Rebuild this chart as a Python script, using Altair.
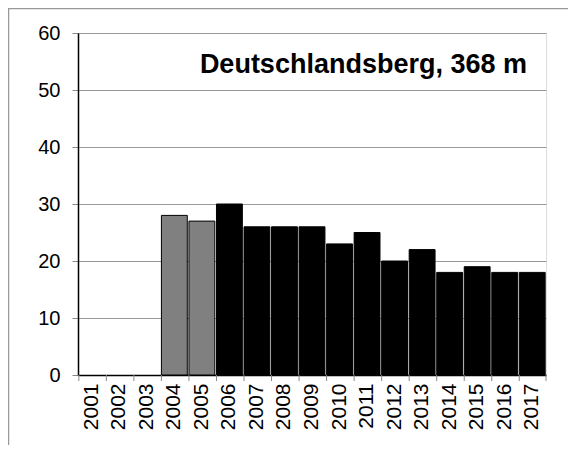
import altair as alt
import pandas as pd

years = [str(y) for y in range(2001, 2018)]
values = [None, None, None, 28, 27, 30, 26, 26, 26, 23, 25, 20, 22, 18, 19, 18, 18]
groups = ["none", "none", "none", "early", "early"] + ["main"] * 12
title_text = "Deutschlandsberg, 368 m"

W, H = 468, 342

df = pd.DataFrame({"year": years, "value": values, "group": groups})
df_bars = df.dropna()

xscale = alt.Scale(domain=years, paddingInner=0.06, paddingOuter=0.03)
yscale = alt.Scale(domain=[0, 60], nice=False)

xaxis = alt.Axis(title=None, labelAngle=-90, ticks=False, domain=True,
                 domainColor="black", domainWidth=1.5,
                 labelFont="Liberation Sans", labelFontSize=21,
                 labelColor="black", labelPadding=8, grid=False)

bars = alt.Chart(df_bars).mark_bar(stroke="black", strokeWidth=1).encode(
    x=alt.X("year:N", scale=xscale, sort=years, axis=xaxis),
    y=alt.Y("value:Q", scale=yscale,
            axis=alt.Axis(title=None, values=[0, 10, 20, 30, 40, 50, 60],
                          tickSize=6, tickColor="#888888", domainColor="black",
                          domainWidth=1.5, labelFont="Liberation Sans",
                          labelFontSize=20, labelColor="black", labelPadding=12,
                          grid=True, gridColor="#999999", gridWidth=1)),
    color=alt.Color("group:N", scale=alt.Scale(domain=["early", "main"],
                                                range=["#808080", "#000000"]),
                    legend=None),
)

tick_df = pd.DataFrame({"year": years})
xticks = alt.Chart(tick_df).mark_rule(color="#888888", strokeWidth=1).encode(
    x=alt.X("year:N", scale=xscale, sort=years, bandPosition=0, axis=xaxis),
    y=alt.value(H),
    y2=alt.value(H + 6),
)
last_tick = alt.Chart(tick_df.head(1)).mark_rule(color="#888888", strokeWidth=1).encode(
    x=alt.value(W), y=alt.value(H), y2=alt.value(H + 6)
)

title = alt.Chart(pd.DataFrame({"t": [title_text]})).mark_text(
    align="right", baseline="alphabetic", font="Liberation Sans",
    fontSize=27, fontWeight="bold", color="black"
).encode(text="t:N", x=alt.value(W - 19), y=alt.value(40))

frame_top = alt.Chart(tick_df.head(1)).mark_rule(color="#999999", strokeWidth=1.5).encode(
    x=alt.value(-70), x2=alt.value(W + 22), y=alt.value(-24.5)
)
frame_left = alt.Chart(tick_df.head(1)).mark_rule(color="#999999", strokeWidth=1.5).encode(
    x=alt.value(-69.5), y=alt.value(-25), y2=alt.value(H + 70)
)

chart = alt.layer(bars, xticks, last_tick, title, frame_top, frame_left).properties(
    width=W, height=H,
    autosize=alt.AutoSizeParams(type="none"),
    padding={"left": 70, "top": 25, "right": 22, "bottom": 70},
).configure_view(stroke="black", strokeWidth=1.5).configure(background="white")

chart.save("out.html", embed_options={"renderer": "svg", "actions": False})
